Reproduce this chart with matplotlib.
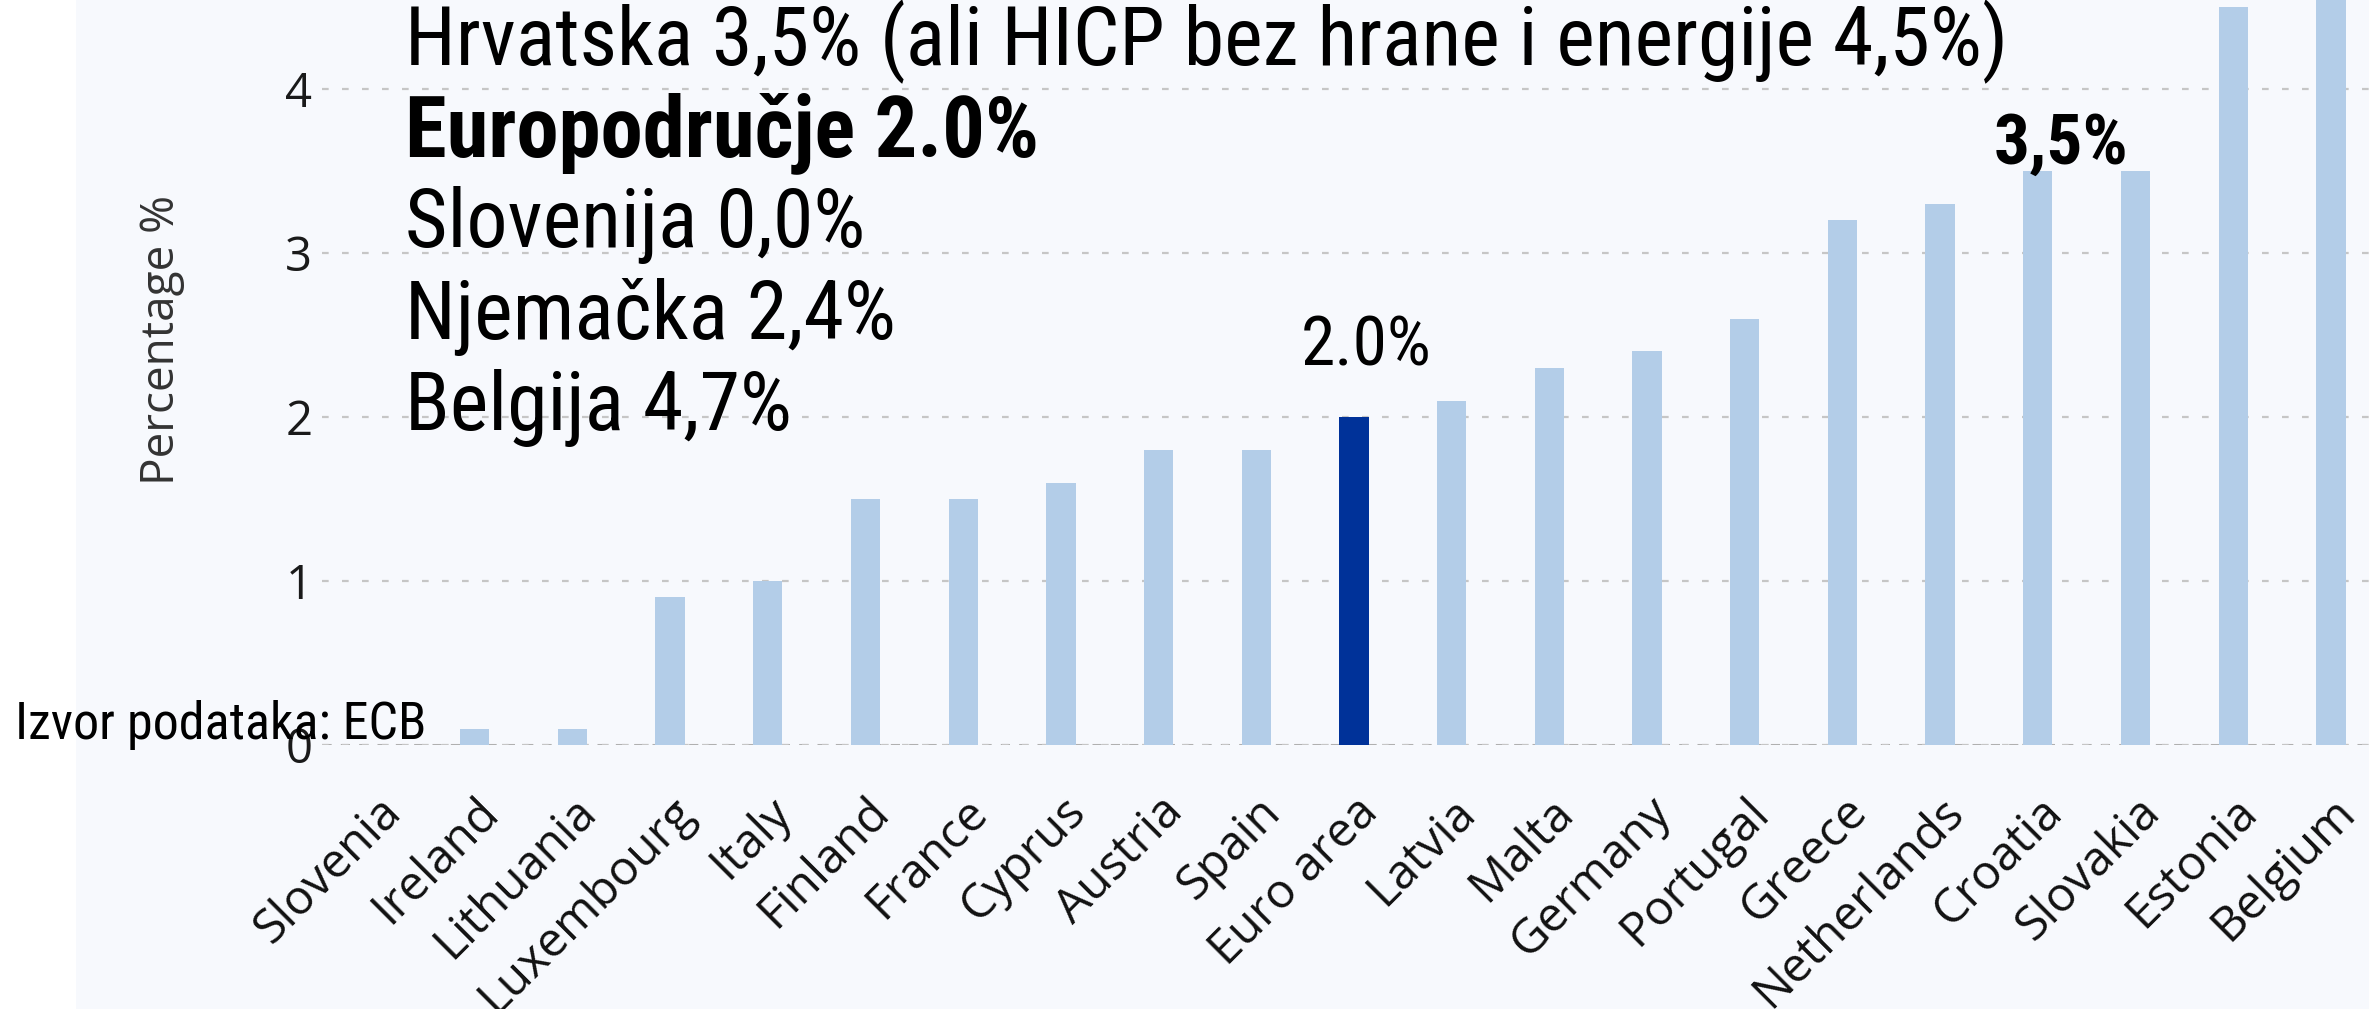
import matplotlib.pyplot as plt
from matplotlib import font_manager
from matplotlib.patches import Rectangle
from matplotlib.transforms import ScaledTranslation

# Inflation by country (%)
countries = ["Slovenia", "Ireland", "Lithuania", "Luxembourg", "Italy", "Finland",
             "France", "Cyprus", "Austria", "Spain", "Euro area", "Latvia", "Malta",
             "Germany", "Portugal", "Greece", "Netherlands", "Croatia", "Slovakia",
             "Estonia", "Belgium"]
values = [0.0, 0.1, 0.1, 0.9, 1.0, 1.5, 1.5, 1.6, 1.8, 1.8, 2.0, 2.1, 2.3,
          2.4, 2.6, 3.2, 3.3, 3.5, 3.5, 4.5, 4.7]
yticks = [0, 1, 2, 3, 4]

notes = ["Hrvatska 3,5% (ali HICP bez hrane i energije 4,5%)",
         "Europodručje 2.0%",
         "Slovenija 0,0%",
         "Njemačka 2,4%",
         "Belgija 4,7%"]
note_bold = [False, True, False, False, False]

light = "#b3cde8"
dark = "#003299"
bg = "#f7f9fd"

installed = {f.name for f in font_manager.fontManager.ttflist}
narrow = "Roboto"
for name in ["Roboto Condensed", "Open Sans Condensed", "Liberation Sans Narrow"]:
    if name in installed:
        narrow = name
        break
tickfont = "Open Sans"

fig = plt.figure(figsize=(23.69, 10.09), dpi=100, facecolor="white")
fig.patches.append(Rectangle((76 / 2369, 0), 1, 1, transform=fig.transFigure,
                             facecolor=bg, edgecolor="none", zorder=-5))

ax = fig.add_axes([322 / 2369, 264 / 1009, 1 - 322 / 2369, 745 / 1009])
ax.set_facecolor(bg)

x = list(range(len(countries)))
colors = [dark if c == "Euro area" else light for c in countries]
ax.bar(x, values, width=0.3, color=colors, zorder=2)

ax.set_xlim(-0.563, 20.39)
ax.set_ylim(0, 4.543)
ax.set_yticks(yticks)
ax.set_yticklabels([str(t) for t in yticks], fontsize=34, family=tickfont, color="#1a1a1a")
ax.set_xticks(x)
ax.set_xticklabels(countries, rotation=45, ha="right", rotation_mode="anchor",
                   fontsize=34.5, family=tickfont, color="#111111")
for lab in ax.get_xticklabels():
    lab.set_transform(lab.get_transform() + ScaledTranslation(0.43, 0.0, fig.dpi_scale_trans))
ax.tick_params(axis="both", length=0)
ax.tick_params(axis="y", pad=7)
ax.tick_params(axis="x", pad=31)
for s in ax.spines.values():
    s.set_visible(False)

ax.yaxis.grid(True, color="#c6c6c6", linestyle=(0, (3, 6)), linewidth=1.6, zorder=1)
ax.axhline(0, color="#b0b0b0", linestyle=(0, (3, 3)), linewidth=2.2, zorder=1)

fig.text(162 / 2369, 1 - 340 / 1009, "Percentage %", rotation=90, ha="center", va="center",
         fontsize=33, family=tickfont, color="#333333")

# overlay notes
for i, (t, b) in enumerate(zip(notes, note_bold)):
    fig.text(405 / 2369, 1 - (42 + i * 91.5) / 1009, t, ha="left", va="center",
             fontsize=61 if b else 59, family=narrow,
             fontweight="bold" if b else "normal", color="black")

ax.annotate("2.0%", (10, 2.0), xytext=(8.7, 51), textcoords="offset points", ha="center",
            va="center", fontsize=50, family=narrow, color="black")
ax.annotate("3,5%", (17, 3.5), xytext=(16.5, 19), textcoords="offset points", ha="center",
            va="center", fontsize=51, family=narrow, fontweight="bold", color="black")

fig.text(15 / 2369, 1 - 725 / 1009, "Izvor podataka: ECB", ha="left", va="center",
         fontsize=37.5, family=narrow, color="black")

fig.savefig("out.png", dpi=100, facecolor=fig.get_facecolor())
